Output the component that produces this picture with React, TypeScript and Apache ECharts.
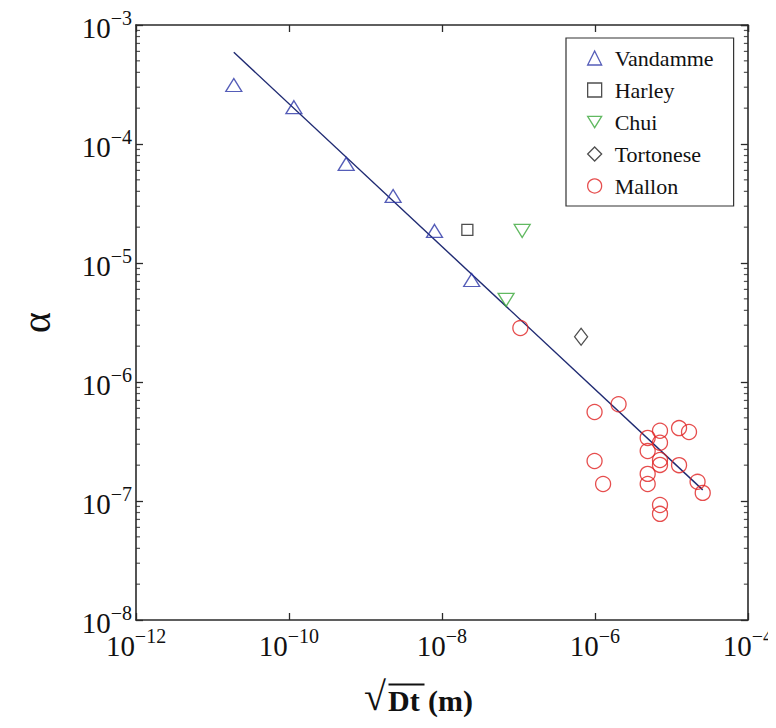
import React, { useEffect, useRef } from "react";
import * as echarts from "echarts";

// sqrt(Dt) in metres, alpha (dimensionless)
const vandammeX = [1.9e-11, 1.16e-10, 5.6e-10, 2.3e-9, 8.0e-9, 2.45e-8];
const vandammeY = [3.13e-4, 2.04e-4, 6.8e-5, 3.66e-5, 1.86e-5, 7.2e-6];

const harleyX = [2.15e-8];
const harleyY = [1.9e-5];

const chuiX = [1.12e-7, 6.9e-8];
const chuiY = [1.86e-5, 4.9e-6];

const tortoneseX = [6.6e-7];
const tortoneseY = [2.4e-6];

const mallonX = [
  1.06e-7, 9.9e-7, 2.04e-6, 9.9e-7, 1.28e-6, 4.9e-6, 4.9e-6, 4.9e-6, 4.9e-6, 7.1e-6,
  7.1e-6, 7.1e-6, 7.1e-6, 7.1e-6, 7.1e-6, 1.26e-5, 1.7e-5, 1.26e-5, 2.2e-5, 2.57e-5,
];
const mallonY = [
  2.84e-6, 5.6e-7, 6.5e-7, 2.17e-7, 1.39e-7, 3.39e-7, 2.63e-7, 1.69e-7, 1.39e-7, 3.89e-7,
  3.09e-7, 2.21e-7, 2.01e-7, 9.25e-8, 7.8e-8, 4.1e-7, 3.8e-7, 2.0e-7, 1.45e-7, 1.17e-7,
];

// power-law fit, end points
const fitX = [1.9e-11, 2.57e-5];
const fitY = [5.9e-4, 1.24e-7];

const legendNames = ["Vandamme", "Harley", "Chui", "Tortonese", "Mallon"];

const X_MIN = 1e-12;
const X_MAX = 1e-4;
const Y_MIN = 1e-8;
const Y_MAX = 1e-3;

// minor tick values for the alpha axis (2..9 in every decade)
const minorTicksY: number[] = [];
for (let e = -8; e < -3; e++) {
  for (let m = 2; m <= 9; m++) minorTicksY.push(m * Math.pow(10, e));
}

const pairs = (xs: number[], ys: number[]) => xs.map((x, i) => [x, ys[i]]);

const FONT = "Liberation Serif";
const AXIS = "#2a2a2a";

const powLabel = (v: number) => {
  const e = Math.round(Math.log10(v));
  return `{b|10}{s|${e < 0 ? "\u2212" : ""}${Math.abs(e)}}`;
};

const rich = {
  b: { fontFamily: FONT, fontSize: 29, color: "#111", lineHeight: 34, verticalAlign: "bottom" },
  s: { fontFamily: FONT, fontSize: 20, color: "#111", lineHeight: 20, verticalAlign: "top" },
};

export default function App() {
  const ref = useRef<HTMLDivElement>(null);

  useEffect(() => {
    if (!ref.current) return;
    const chart = echarts.init(ref.current, undefined, { renderer: "svg" });

    const hollow = (color: string) => ({
      color: "rgba(0,0,0,0)",
      borderColor: color,
      borderWidth: 1.3,
    });

    const minorTick = (xVal: number, offset: number) => ({
      type: "scatter",
      silent: true,
      clip: false,
      data: minorTicksY.map((v) => [xVal, v]),
      symbol: "rect",
      symbolSize: [4, 1.2],
      symbolOffset: [offset, 0],
      itemStyle: { color: AXIS },
      z: 2,
    });

    const logAxis = (min: number, max: number, interval: number, split: number) => ({
      type: "log",
      logBase: 10,
      min,
      max,
      interval,
      splitNumber: split,
      splitLine: { show: false },
      axisLine: { show: true, onZero: false, lineStyle: { color: AXIS, width: 1.6 } },
      axisTick: { show: true, inside: true, length: 7, lineStyle: { color: AXIS, width: 1.3 } },
    });

    const option: any = {
      animation: false,
      grid: { left: 102, top: 17, right: 23, bottom: 100 },
      legend: {
        data: [
          { name: legendNames[0] },
          { name: legendNames[1] },
          { name: legendNames[2], icon: "path://M0,0L16,0L8,13Z" },
          { name: legendNames[3] },
          { name: legendNames[4] },
        ],
        orient: "vertical",
        left: 558,
        top: 30,
        padding: [9, 20, 9, 21],
        itemWidth: 14,
        itemHeight: 14,
        itemGap: 10,
        borderColor: "#333",
        borderWidth: 1.2,
        backgroundColor: "#fff",
        itemStyle: { borderWidth: 1.3 },
        textStyle: { fontFamily: FONT, fontSize: 22, color: "#111", padding: [0, 0, 0, 8] },
        selectedMode: false,
      },
      xAxis: [
        {
          ...logAxis(X_MIN, X_MAX, 2, 4),
          position: "bottom",
          axisLabel: { formatter: powLabel, rich, margin: 6, showMinLabel: true, showMaxLabel: true },
        },
        {
          ...logAxis(X_MIN, X_MAX, 2, 4),
          position: "top",
          axisLabel: { show: false },
        },
      ],
      yAxis: [
        {
          ...logAxis(Y_MIN, Y_MAX, 1, 5),
          position: "left",
          name: "\u03b1",
          nameLocation: "middle",
          nameRotate: 90,
          nameGap: 80,
          nameTextStyle: { fontFamily: FONT, fontSize: 40, color: "#111" },
          axisLabel: { formatter: powLabel, rich, margin: 4, showMinLabel: true, showMaxLabel: true },
        },
        {
          ...logAxis(Y_MIN, Y_MAX, 1, 5),
          position: "right",
          axisLabel: { show: false },
        },
      ],
      series: [
        {
          name: "fit",
          type: "line",
          data: pairs(fitX, fitY),
          showSymbol: false,
          symbol: "none",
          lineStyle: { color: "#1f2a72", width: 1.4 },
          silent: true,
          z: 1,
        },
        {
          name: "Vandamme",
          type: "scatter",
          data: pairs(vandammeX, vandammeY),
          symbol: "triangle",
          symbolSize: [16, 13],
          itemStyle: hollow("#2b35a6"),
          z: 3,
        },
        {
          name: "Harley",
          type: "scatter",
          data: pairs(harleyX, harleyY),
          symbol: "rect",
          symbolSize: 11,
          itemStyle: hollow("#222"),
          z: 3,
        },
        {
          name: "Chui",
          type: "scatter",
          data: pairs(chuiX, chuiY),
          symbol: "triangle",
          symbolRotate: 180,
          symbolSize: [16, 13],
          itemStyle: hollow("#3aa83a"),
          z: 3,
        },
        {
          name: "Tortonese",
          type: "scatter",
          data: pairs(tortoneseX, tortoneseY),
          symbol: "diamond",
          symbolSize: [13, 17],
          itemStyle: hollow("#222"),
          z: 3,
        },
        {
          name: "Mallon",
          type: "scatter",
          data: pairs(mallonX, mallonY),
          symbol: "circle",
          symbolSize: 15,
          itemStyle: hollow("#e02222"),
          z: 3,
        },
        minorTick(X_MIN, 2),
        minorTick(X_MAX, -2),
      ],
      graphic: [
        {
          type: "text",
          left: 356,
          top: 668,
          style: { text: "\u221a", fontFamily: FONT, fontSize: 40, fill: "#111" },
        },
        {
          type: "line",
          left: 378,
          top: 674,
          shape: { x1: 0, y1: 0, x2: 36, y2: 0 },
          style: { stroke: "#111", lineWidth: 2 },
        },
        {
          type: "text",
          left: 380,
          top: 677,
          style: { text: "Dt", fontFamily: FONT, fontSize: 30, fontWeight: "bold", fill: "#111" },
        },
        {
          type: "text",
          left: 420,
          top: 677,
          style: { text: "(m)", fontFamily: FONT, fontSize: 30, fontWeight: "bold", fill: "#111" },
        },
      ],
    };

    chart.setOption(option);
    return () => chart.dispose();
  }, []);

  return <div ref={ref} style={{ width: 768, height: 712 }} />;
}
